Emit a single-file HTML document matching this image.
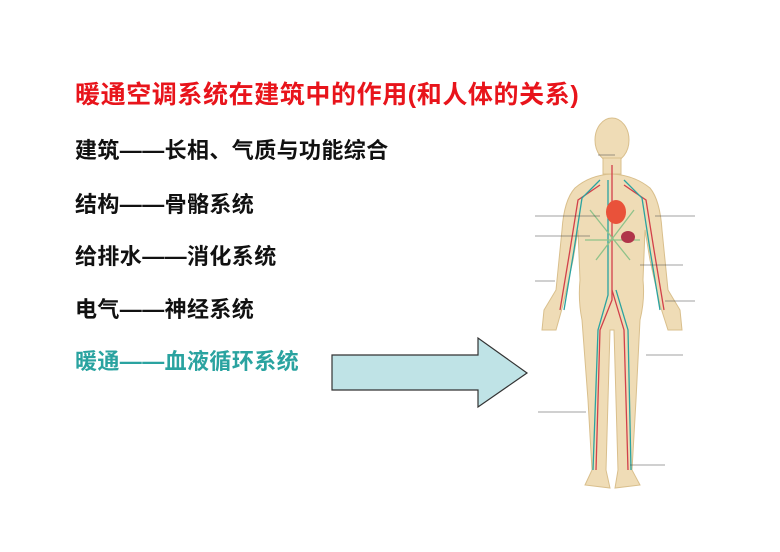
<!DOCTYPE html>
<html><head><meta charset="utf-8"><style>
body{margin:0;width:780px;height:552px;background:#fff;position:relative;overflow:hidden;font-family:"Liberation Sans","Noto Sans CJK SC",sans-serif;font-weight:bold}
.t{position:absolute;white-space:nowrap;line-height:1}
</style></head><body>
<div class="t" style="left:75px;top:83px;font-size:25px;color:#e8141b;letter-spacing:0.6px">暖通空调系统在建筑中的作用(和人体的关系)</div>
<div class="t" style="left:75px;top:140px;font-size:22px;color:#111;letter-spacing:0.4px">建筑——长相、气质与功能综合</div>
<div class="t" style="left:75px;top:194px;font-size:22px;color:#111;letter-spacing:0.4px">结构——骨骼系统</div>
<div class="t" style="left:75px;top:246px;font-size:22px;color:#111;letter-spacing:0.4px">给排水——消化系统</div>
<div class="t" style="left:75px;top:299px;font-size:22px;color:#111;letter-spacing:0.4px">电气——神经系统</div>
<div class="t" style="left:75px;top:351px;font-size:22px;color:#2aa3a0;letter-spacing:0.4px">暖通——血液循环系统</div>
<svg style="position:absolute;left:0;top:0" width="780" height="552">
<polygon points="332,355 478,355 478,338 527,373 478,407 478,390 332,390" fill="#bfe3e6" stroke="#333" stroke-width="1.2"/>
<g fill="#efdcb6" stroke="#d9bf8c" stroke-width="1">
<ellipse cx="612" cy="140" rx="17" ry="22"/>
<rect x="603" y="158" width="18" height="16"/>
<path d="M575,188 Q590,175 612,174 Q634,175 650,188 Q660,200 662,230 L668,290 L680,310 L682,330 L668,330 L660,305 L650,260 L645,230 L643,280 Q645,300 640,320 L636,400 L632,470 L640,485 L615,488 L618,470 L614,330 L610,330 L606,470 L610,488 L585,485 L592,470 L588,400 L582,320 Q578,300 580,280 L578,230 L573,260 L563,305 L556,330 L542,330 L544,310 L556,290 L562,230 Q564,200 575,188 Z"/>
</g>
<g fill="none" stroke-width="1.3">
<path d="M612,165 L612,300 L600,330 L596,470" stroke="#d2404a"/>
<path d="M612,290 L624,330 L628,470" stroke="#d2404a"/>
<path d="M608,180 L608,295 L598,330 L593,470" stroke="#2aa3a0"/>
<path d="M616,290 L628,330 L631,470" stroke="#2aa3a0"/>
<path d="M600,185 L578,200 L570,250 L560,310" stroke="#d2404a"/>
<path d="M624,185 L646,200 L654,250 L664,310" stroke="#d2404a"/>
<path d="M600,180 L582,198 L574,250 L564,310" stroke="#2aa3a0"/>
<path d="M624,180 L642,198 L650,250 L660,310" stroke="#2aa3a0"/>
<path d="M590,210 L630,260 M634,210 L596,260 M585,240 L640,240" stroke="#8fc28a"/>
</g>
<ellipse cx="616" cy="212" rx="10" ry="12" fill="#e9523a"/>
<ellipse cx="628" cy="237" rx="7" ry="6" fill="#b0354a"/>
<g stroke="#444" stroke-width="0.6">
<line x1="535" y1="216" x2="600" y2="216"/><line x1="535" y1="236" x2="590" y2="236"/>
<line x1="535" y1="281" x2="555" y2="281"/><line x1="598" y1="155" x2="615" y2="155"/>
<line x1="655" y1="216" x2="695" y2="216"/><line x1="640" y1="265" x2="683" y2="265"/>
<line x1="665" y1="301" x2="695" y2="301"/><line x1="646" y1="355" x2="683" y2="355"/>
<line x1="538" y1="412" x2="586" y2="412"/><line x1="630" y1="465" x2="665" y2="465"/>
</g>
</svg>
</body></html>
